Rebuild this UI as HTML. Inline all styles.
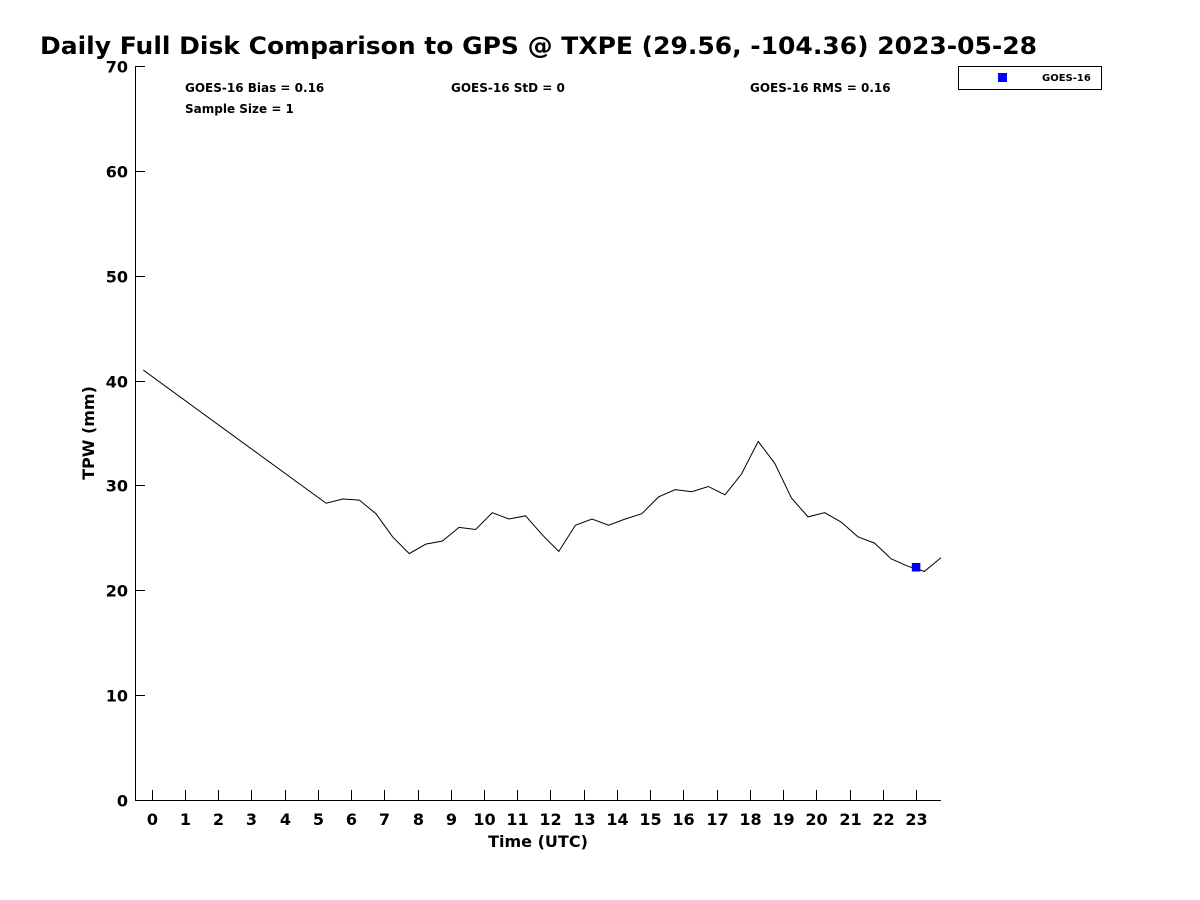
<!DOCTYPE html>
<html><head><meta charset="utf-8"><style>
body{margin:0;background:#fff}
svg{display:block;font-family:"DejaVu Sans","Liberation Sans",sans-serif;font-weight:bold}
</style></head><body>
<svg id="c" width="1200" height="900">
<text x="40" y="54" font-size="24" textLength="997" lengthAdjust="spacingAndGlyphs">Daily Full Disk Comparison to GPS @ TXPE (29.56, -104.36) 2023-05-28</text>
<text x="185" y="92" font-size="12">GOES-16 Bias = 0.16</text>
<text x="451" y="92" font-size="12">GOES-16 StD = 0</text>
<text x="750" y="92" font-size="12">GOES-16 RMS = 0.16</text>
<text x="185" y="113" font-size="12">Sample Size = 1</text>
<g>
<rect x="958.5" y="66.5" width="143" height="23" fill="#fff" stroke="#000"/>
<rect x="998" y="73" width="9" height="9" fill="#0000ff"/>
<text x="1042" y="81" font-size="10">GOES-16</text>
</g>
<text transform="translate(94,433) rotate(-90)" text-anchor="middle" font-size="16">TPW (mm)</text>
<text x="538" y="847" text-anchor="middle" font-size="16">Time (UTC)</text>
<g id="axes"></g>
</svg>
<script>
const gpsHours=[-0.25,5.25,5.75,6.25,6.75,7.25,7.75,8.25,8.75,9.25,9.75,10.25,10.75,11.25,11.75,12.25,12.75,13.25,13.75,14.25,14.75,15.25,15.75,16.25,16.75,17.25,17.75,18.25,18.75,19.25,19.75,20.25,20.75,21.25,21.75,22.25,22.75,23.25,23.75];
const gpsTPW=[41.0,28.3,28.7,28.6,27.3,25.1,23.5,24.4,24.7,26.0,25.8,27.4,26.8,27.1,25.3,23.7,26.2,26.8,26.2,26.8,27.3,28.9,29.6,29.4,29.9,29.1,31.1,34.2,32.1,28.8,27.0,27.4,26.5,25.1,24.5,23.0,22.3,21.8,23.1];
const goesHours=[23.0];
const goesTPW=[22.2];
const xTicks=[0,1,2,3,4,5,6,7,8,9,10,11,12,13,14,15,16,17,18,19,20,21,22,23];
const yTicks=[0,10,20,30,40,50,60,70];
const NS='http://www.w3.org/2000/svg';
const X0=135,X1=941,Y0=800,Y1=66,xmin=-0.5,xmax=23.75,ymin=0,ymax=70;
const sx=v=>X0+(v-xmin)/(xmax-xmin)*(X1-X0);
const sy=v=>Y0-(v-ymin)/(ymax-ymin)*(Y0-Y1);
const g=document.getElementById('axes');
function mk(t,a){const e=document.createElementNS(NS,t);for(const k in a)e.setAttribute(k,a[k]);g.appendChild(e);return e;}
let e=mk('path',{d:`M${X0+.5},${Y1}V${Y0+.5}H${X1}`,fill:'none',stroke:'#000'});


xTicks.forEach(t=>{const x=Math.round(sx(t))+.5;
 let l=mk('line',{x1:x,x2:x,y1:Y0,y2:Y0-10,stroke:'#000'});
 
 
 let tx=mk('text',{x:x,y:825,'text-anchor':'middle','font-size':16});tx.textContent=t;
 
 
});
yTicks.forEach(t=>{const y=Math.round(sy(t))+.5;
 let l=mk('line',{x1:X0,x2:X0+10,y1:y,y2:y,stroke:'#000'});
 
 
 let tx=mk('text',{x:128,y:y+6,'text-anchor':'end','font-size':16});tx.textContent=t;
 
 
});
let p=mk('polyline',{points:gpsHours.map((h,i)=>sx(h)+','+sy(gpsTPW[i])).join(' '),fill:'none',stroke:'#000','stroke-width':1});


goesHours.forEach((h,i)=>{let r=mk('rect',{x:sx(h)-4,y:sy(goesTPW[i])-4,width:8,height:8,fill:'#0000ff',stroke:'#000080','stroke-width':.5});
 
 
});
</script>
</body></html>
